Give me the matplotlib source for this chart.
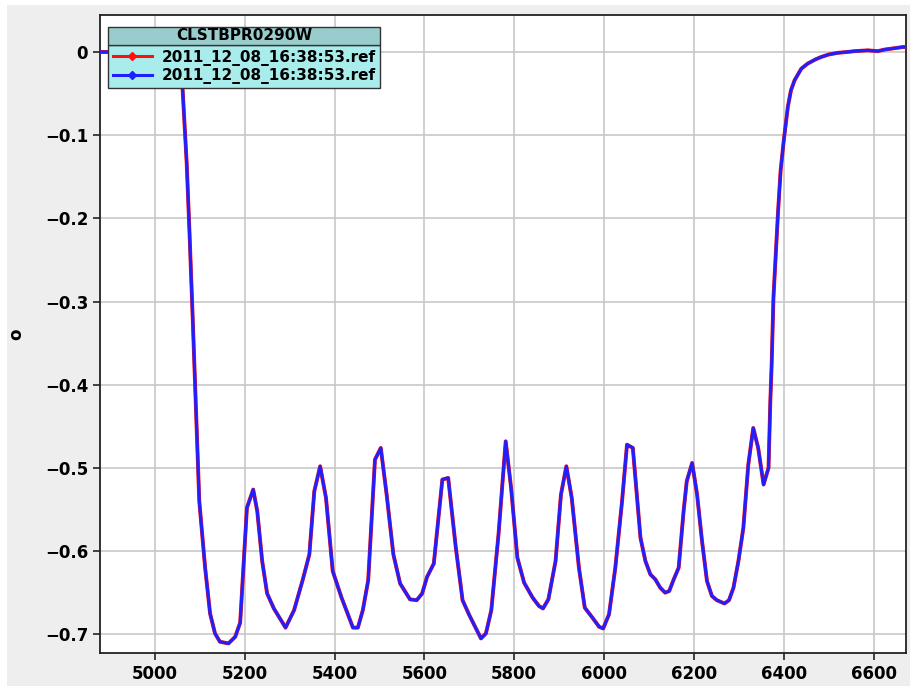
import matplotlib
matplotlib.use("Agg")
import matplotlib.pyplot as plt
from matplotlib.lines import Line2D
from matplotlib.patches import Rectangle

# wavelength / value pairs
wl = [4880, 4900, 4920, 4940, 4960, 4980, 5000, 5020, 5035, 5045, 5055, 5062,
      5071, 5077, 5084, 5091, 5099, 5112, 5123, 5134, 5145, 5164, 5179, 5190,
      5205, 5219, 5228, 5239, 5250, 5265, 5291, 5310, 5329, 5344, 5355, 5368,
      5381, 5396, 5415, 5441, 5452, 5463, 5475, 5490, 5503, 5516, 5531, 5546,
      5568, 5583, 5595, 5606, 5621, 5640, 5653, 5670, 5685, 5700, 5726, 5737,
      5749, 5765, 5781, 5793, 5807, 5822, 5841, 5855, 5864, 5876, 5892, 5904,
      5916, 5928, 5944, 5957, 5974, 5989, 5998, 6011, 6025, 6040, 6051, 6064,
      6081, 6092, 6103, 6114, 6125, 6136, 6145, 6155, 6166, 6177, 6184, 6196,
      6207, 6218, 6229, 6240, 6251, 6268, 6278, 6288, 6299, 6310, 6321, 6332,
      6343, 6355, 6366, 6370, 6373, 6377, 6381, 6387, 6393, 6400, 6409, 6416,
      6424, 6439, 6453, 6470, 6483, 6500, 6520, 6540, 6557, 6587, 6609, 6625,
      6639, 6665, 6675]
vals = [0.000, 0.000, 0.000, 0.001, 0.001, 0.001, 0.001, 0.001, 0.000, -0.001,
        -0.005, -0.046, -0.134, -0.214, -0.315, -0.420, -0.540, -0.620, -0.675,
        -0.699, -0.709, -0.711, -0.703, -0.686, -0.548, -0.526, -0.552, -0.612,
        -0.651, -0.669, -0.692, -0.671, -0.635, -0.604, -0.528, -0.498, -0.536,
        -0.624, -0.655, -0.692, -0.692, -0.671, -0.635, -0.490, -0.476, -0.532,
        -0.604, -0.639, -0.658, -0.659, -0.651, -0.631, -0.615, -0.514, -0.512,
        -0.596, -0.659, -0.677, -0.705, -0.699, -0.671, -0.580, -0.468, -0.524,
        -0.608, -0.638, -0.656, -0.666, -0.669, -0.658, -0.612, -0.532, -0.498,
        -0.536, -0.620, -0.668, -0.680, -0.691, -0.693, -0.676, -0.620, -0.540,
        -0.472, -0.476, -0.584, -0.612, -0.628, -0.634, -0.644, -0.650, -0.648,
        -0.634, -0.620, -0.552, -0.516, -0.494, -0.532, -0.588, -0.636, -0.654,
        -0.659, -0.663, -0.659, -0.644, -0.612, -0.572, -0.496, -0.452, -0.476,
        -0.520, -0.500, -0.420, -0.375, -0.295, -0.255, -0.194, -0.142, -0.106,
        -0.066, -0.046, -0.034, -0.020, -0.014, -0.009, -0.006, -0.003, -0.001,
        0.000, 0.001, 0.002, 0.001, 0.003, 0.004, 0.006, 0.006]

legend_title = "CLSTBPR0290W"
series_labels = ["2011_12_08_16:38:53.ref", "2011_12_08_16:38:53.ref"]
series_colors = ["#ff1010", "#2020ff"]
xticks = [5000, 5200, 5400, 5600, 5800, 6000, 6200, 6400, 6600]
yticks = [0, -0.1, -0.2, -0.3, -0.4, -0.5, -0.6, -0.7]

fig = plt.figure(figsize=(9.1, 6.86), dpi=100)
fig.patch.set_facecolor("white")
fig.add_artist(Rectangle((7 / 910, 0), 1, 1 - 5 / 686, transform=fig.transFigure,
                         facecolor="#eeeeee", edgecolor="none", zorder=-10))

ax = fig.add_axes([100 / 910, 1 - 653 / 686, 806 / 910, 638 / 686])
ax.set_facecolor("white")

ax.plot(wl, vals, color=series_colors[0], lw=2.8, zorder=3)
ax.plot(wl, vals, color=series_colors[1], lw=2.2, zorder=4)

ax.set_xlim(4878, 6672)
ax.set_ylim(-0.7225, 0.0445)
ax.set_xticks(xticks)
ax.set_yticks(yticks)
ax.set_yticklabels(["0" if v == 0 else f"\u2212{abs(v):.1f}" for v in yticks])
ax.grid(True, color="#c8c8c8", lw=1.2)
ax.set_axisbelow(True)
for s in ax.spines.values():
    s.set_color("#222222")
    s.set_linewidth(1.3)
ax.tick_params(direction="out", length=5, width=1.2, colors="#222222",
               labelsize=12, labelcolor="black")
for lab in ax.get_xticklabels() + ax.get_yticklabels():
    lab.set_fontweight("bold")
ax.set_ylabel("o", fontsize=12, fontweight="bold", labelpad=14)

handles = [Line2D([], [], color=c, lw=2.2, marker="D", markersize=4)
           for c in series_colors]
leg = ax.legend(handles, series_labels, loc="upper left",
                bbox_to_anchor=(8 / 806, 1 - 30 / 638), fancybox=False,
                framealpha=1, facecolor="#a8ecec", edgecolor="#333333",
                borderaxespad=0, handlelength=2.6, handletextpad=0.6,
                labelspacing=0.15, borderpad=0.3,
                prop={"size": 11, "weight": "bold"})
leg.get_frame().set_linewidth(1.0)
leg.set_zorder(10)

fig.canvas.draw()
bb = leg.get_window_extent().transformed(fig.transFigure.inverted())
th = 18 / 686
fig.add_artist(Rectangle((bb.x0, bb.y1), bb.width, th, transform=fig.transFigure,
                         facecolor="#99cccc", edgecolor="#333333", lw=1.0, zorder=11))
fig.text(bb.x0 + bb.width / 2, bb.y1 + th / 2, legend_title, ha="center",
         va="center", fontsize=11, fontweight="bold", zorder=12)

fig.savefig("out.png", dpi=100, facecolor=fig.get_facecolor())
